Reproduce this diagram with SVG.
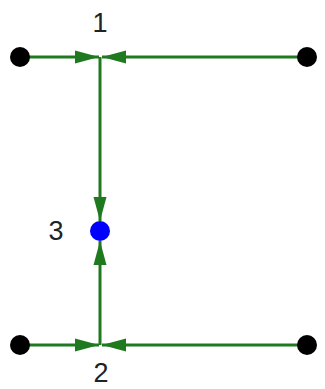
<svg xmlns="http://www.w3.org/2000/svg" width="325" height="389" viewBox="0 0 325 389">
<style>
.e{stroke:#1f7a1f;stroke-width:3;fill:none;marker-end:url(#ah)}
.b{fill:#000}
.l{font-family:"Liberation Sans",Arial,sans-serif;font-size:27px;fill:#222;text-anchor:middle}
</style>
<defs>
<marker id="ah" markerUnits="userSpaceOnUse" markerWidth="24" markerHeight="16" refX="24" refY="8" orient="auto">
<path d="M0,1.5 L24,8 L0,14.5 Z" fill="#1f7a1f"/>
</marker>
</defs>
<rect width="325" height="389" fill="#fff"/>
<g id="connectors">
<path class="e" d="M20,57 L99,57"/>
<path class="e" d="M307,57 L102,57"/>
<path class="e" d="M100,57 L100,221"/>
<path class="e" d="M100,345 L100,241"/>
<path class="e" d="M20,345 L99,345"/>
<path class="e" d="M307,345 L102,345"/>
</g>
<g id="n1"><text class="l" x="100" y="32">1</text></g>
<g id="n2"><text class="l" x="101" y="382" font-size="26">2</text></g>
<g id="n3"><circle cx="100" cy="231" r="10" fill="#0000ff"/><text class="l" x="56" y="240">3</text></g>
<g id="a"><circle class="b" cx="20" cy="57" r="10"/></g>
<g id="b"><circle class="b" cx="307" cy="57" r="10"/></g>
<g id="c"><circle class="b" cx="20" cy="345" r="10"/></g>
<g id="d"><circle class="b" cx="307" cy="345" r="10"/></g>
</svg>
